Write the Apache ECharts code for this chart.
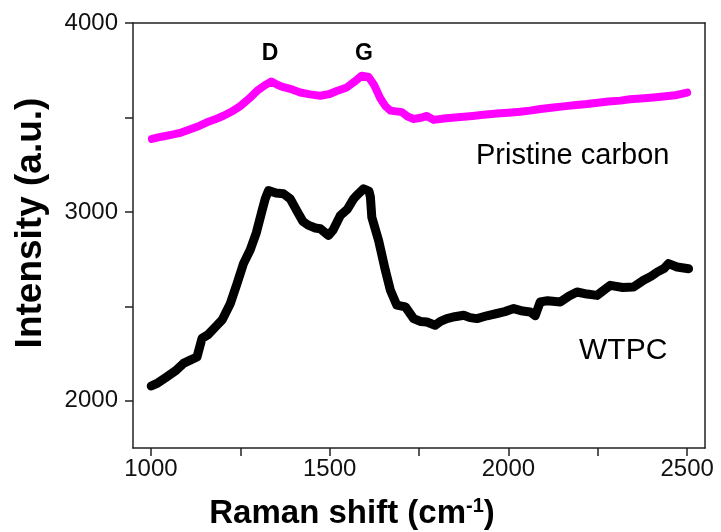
<!DOCTYPE html>
<html>
<head>
<meta charset="utf-8">
<script src="https://cdn.jsdelivr.net/npm/echarts@6.0.0/dist/echarts.min.js"></script>
<style>
  html, body { margin: 0; padding: 0; background: #fff; }
  #chart { width: 721px; height: 532px; }
</style>
</head>
<body>
<div id="chart"></div>
<script>
// Raman spectra
const pristineX = [1003, 1030, 1063, 1085, 1110, 1135, 1157, 1180, 1203, 1225, 1250, 1275, 1297, 1320, 1337, 1355, 1371, 1395, 1418, 1445, 1474, 1500, 1520, 1548, 1570, 1590, 1609, 1625, 1642, 1656, 1670, 1686, 1702, 1718, 1735, 1755, 1772, 1791, 1820, 1850, 1875, 1900, 1930, 1968, 2000, 2033, 2060, 2090, 2126, 2160, 2190, 2220, 2250, 2280, 2313, 2340, 2370, 2406, 2440, 2472, 2500];
const pristineY = [3386, 3398, 3410, 3420, 3437, 3455, 3474, 3490, 3509, 3530, 3560, 3600, 3641, 3672, 3690, 3672, 3660, 3648, 3632, 3622, 3615, 3624, 3640, 3659, 3690, 3721, 3714, 3670, 3600, 3560, 3536, 3532, 3528, 3505, 3492, 3498, 3508, 3487, 3494, 3500, 3504, 3508, 3514, 3521, 3525, 3530, 3536, 3545, 3553, 3560, 3566, 3571, 3578, 3584, 3589, 3596, 3600, 3606, 3612, 3619, 3632];

const wtpcX = [1001, 1020, 1045, 1070, 1091, 1110, 1129, 1143, 1160, 1185, 1200, 1222, 1241, 1259, 1278, 1295, 1311, 1320, 1329, 1350, 1371, 1390, 1408, 1425, 1440, 1460, 1474, 1497, 1510, 1530, 1550, 1567, 1580, 1595, 1610, 1614, 1618, 1637, 1656, 1670, 1688, 1712, 1735, 1755, 1772, 1795, 1810, 1828, 1850, 1875, 1893, 1912, 1940, 1968, 1990, 2015, 2040, 2061, 2075, 2089, 2110, 2145, 2170, 2192, 2220, 2248, 2270, 2285, 2320, 2350, 2378, 2400, 2416, 2435, 2448, 2472, 2504];
const wtpcY = [2078, 2095, 2127, 2160, 2198, 2215, 2232, 2330, 2350, 2400, 2430, 2514, 2620, 2726, 2800, 2890, 3007, 3070, 3113, 3100, 3096, 3069, 3007, 2950, 2930, 2915, 2911, 2875, 2905, 2981, 3015, 3069, 3095, 3122, 3110, 3080, 2972, 2849, 2690, 2585, 2506, 2497, 2435, 2420, 2417, 2400, 2420, 2435, 2445, 2453, 2440, 2435, 2450, 2462, 2472, 2488, 2475, 2470, 2450, 2523, 2530, 2523, 2555, 2576, 2565, 2558, 2590, 2611, 2600, 2602, 2638, 2660, 2681, 2700, 2726, 2708, 2699];

const xLabels = [1000, 1500, 2000, 2500];
const xTicks = [1000, 1250, 1500, 1750, 2000, 2250, 2500];
const yLabels = [2000, 3000, 4000];
const yTicks = [2000, 2500, 3000, 3500, 4000];

const font = "'Liberation Sans', Arial, sans-serif";
const frame = { lineStyle: { color: "#222", width: 1.5 } };
const tickStyle = { color: "#222", width: 1.5 };
const plain = (v) => String(v);

const zip = (xs, ys) => xs.map((x, i) => [x, ys[i]]);

const chart = echarts.init(document.getElementById("chart"));
chart.setOption({
  animation: false,
  grid: { left: 133, right: 16, top: 23, bottom: 84 },
  xAxis: [
    {
      type: "value",
      min: 950,
      max: 2550,
      axisLine: frame,
      axisTick: { show: true, inside: false, length: 8, customValues: xTicks, lineStyle: tickStyle },
      axisLabel: { customValues: xLabels, formatter: plain, margin: 9, color: "#111", fontSize: 24, fontFamily: font },
      splitLine: { show: false },
    },
    {
      type: "value",
      position: "top",
      min: 950,
      max: 2550,
      axisLine: frame,
      axisTick: { show: false },
      axisLabel: { show: false },
      splitLine: { show: false },
    },
  ],
  yAxis: [
    {
      type: "value",
      min: 1750,
      max: 4000,
      axisLine: frame,
      axisTick: { show: true, inside: false, length: 8, customValues: yTicks, lineStyle: tickStyle },
      axisLabel: { customValues: yLabels, formatter: plain, margin: 15, color: "#111", fontSize: 24, fontFamily: font },
      splitLine: { show: false },
    },
    {
      type: "value",
      position: "right",
      min: 1750,
      max: 4000,
      axisLine: frame,
      axisTick: { show: false },
      axisLabel: { show: false },
      splitLine: { show: false },
    },
  ],
  series: [
    {
      name: "Pristine carbon",
      type: "line",
      data: zip(pristineX, pristineY),
      showSymbol: false,
      lineStyle: { color: "#ff00ff", width: 8, cap: "round", join: "round" },
    },
    {
      name: "WTPC",
      type: "line",
      data: zip(wtpcX, wtpcY),
      showSymbol: false,
      lineStyle: { color: "#000", width: 9, cap: "round", join: "round" },
    },
  ],
  graphic: [
    {
      type: "text", x: 270, y: 54,
      style: { text: "D", fill: "#000", font: `bold 23px ${font}`, align: "center", verticalAlign: "middle" },
    },
    {
      type: "text", x: 364, y: 54,
      style: { text: "G", fill: "#000", font: `bold 23px ${font}`, align: "center", verticalAlign: "middle" },
    },
    {
      type: "text", x: 476, y: 156,
      style: { text: "Pristine carbon", fill: "#000", font: `29px ${font}`, align: "left", verticalAlign: "middle" },
    },
    {
      type: "text", x: 579, y: 351,
      style: { text: "WTPC", fill: "#000", font: `30px ${font}`, align: "left", verticalAlign: "middle" },
    },
    {
      type: "text", x: 31, y: 223, rotation: Math.PI / 2,
      style: { text: "Intensity (a.u.)", fill: "#000", font: `bold 37px ${font}`, align: "center", verticalAlign: "middle" },
    },
    {
      type: "text", x: 352, y: 514,
      style: {
        text: "{a|Raman shift (cm}{s|-1}{a|)}",
        align: "center",
        verticalAlign: "middle",
        rich: {
          a: { fontSize: 33, fontWeight: "bold", fontFamily: font, fill: "#000", lineHeight: 40 },
          s: { fontSize: 20, fontWeight: "bold", fontFamily: font, fill: "#000", lineHeight: 40, padding: [0, 0, 16, 0] },
        },
      },
    },
  ],
});
</script>
</body>
</html>
